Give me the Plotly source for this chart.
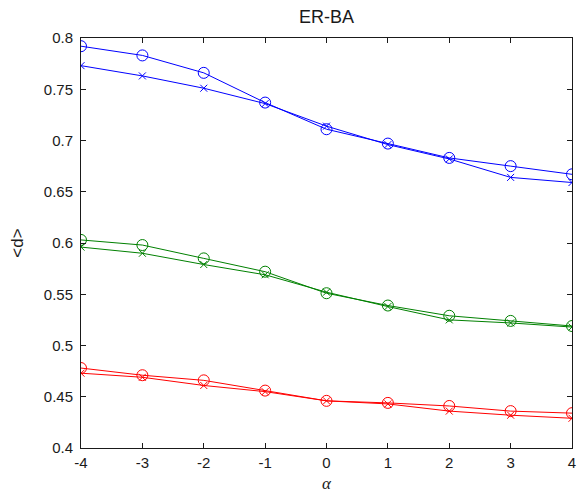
import plotly.graph_objects as go

alpha = [-4, -3, -2, -1, 0, 1, 2, 3, 4]

blue_o = [0.792, 0.783, 0.766, 0.737, 0.711, 0.697, 0.683, 0.675, 0.667]
blue_x = [0.773, 0.763, 0.751, 0.736, 0.714, 0.696, 0.682, 0.664, 0.659]
green_o = [0.603, 0.598, 0.585, 0.572, 0.551, 0.539, 0.529, 0.524, 0.519]
green_x = [0.596, 0.590, 0.579, 0.569, 0.552, 0.538, 0.525, 0.522, 0.518]
red_o = [0.478, 0.471, 0.466, 0.456, 0.446, 0.444, 0.441, 0.436, 0.434]
red_x = [0.473, 0.469, 0.461, 0.455, 0.446, 0.443, 0.436, 0.432, 0.429]

x_ticks = [-4, -3, -2, -1, 0, 1, 2, 3, 4]
x_tick_text = ["-4", "-3", "-2", "-1", "0", "1", "2", "3", "4"]
y_ticks = [0.4, 0.45, 0.5, 0.55, 0.6, 0.65, 0.7, 0.75, 0.8]
y_tick_text = ["0.4", "0.45", "0.5", "0.55", "0.6", "0.65", "0.7", "0.75", "0.8"]

BLUE = "#0000ff"
GREEN = "#008000"
RED = "#ff0000"
INK = "#1a1a1a"

fig = go.Figure()

def add(ys, color, symbol, size):
    fig.add_trace(go.Scatter(
        x=alpha, y=ys, mode="lines+markers",
        line=dict(color=color, width=1),
        marker=dict(symbol=symbol, size=size, color=color,
                    line=dict(color=color, width=1)),
        showlegend=False,
    ))

add(blue_o, BLUE, "circle-open", 11)
add(blue_x, BLUE, "x-thin-open", 7)
add(green_o, GREEN, "circle-open", 11)
add(green_x, GREEN, "x-thin-open", 7)
add(red_o, RED, "circle-open", 11)
add(red_x, RED, "x-thin-open", 7)

axis_common = dict(
    showgrid=False, zeroline=False, showline=True, linecolor=INK,
    linewidth=1, mirror="allticks", ticks="inside", ticklen=5,
    tickcolor=INK, automargin=False,
    tickfont=dict(family="Arial", size=15, color=INK),
)

# the page body keeps an 8px default margin, so the figure is kept small
# enough to fit the 585x501 window without scrollbars
fig.update_layout(
    width=569, height=485,
    paper_bgcolor="white", plot_bgcolor="white",
    margin=dict(l=73, r=5, t=30, b=45, autoexpand=False),
    title=dict(text="ER-BA", x=0.5, xref="paper", xanchor="center",
               y=0.983, yanchor="middle",
               font=dict(family="Arial", size=18, color=INK)),
    xaxis=dict(range=[-4, 4], tickvals=x_ticks, ticktext=x_tick_text,
               ticklabelstandoff=1,
               title=dict(text="<i>α</i>", font=dict(family="Liberation Serif", size=17, color=INK), standoff=9),
               **axis_common),
    yaxis=dict(range=[0.4, 0.8], tickvals=y_ticks, ticktext=y_tick_text,
               ticklabelstandoff=4,
               title=dict(text="<d>", font=dict(family="Arial", size=17, color=INK), standoff=17),
               **axis_common),
)

fig.write_html("out.html")
